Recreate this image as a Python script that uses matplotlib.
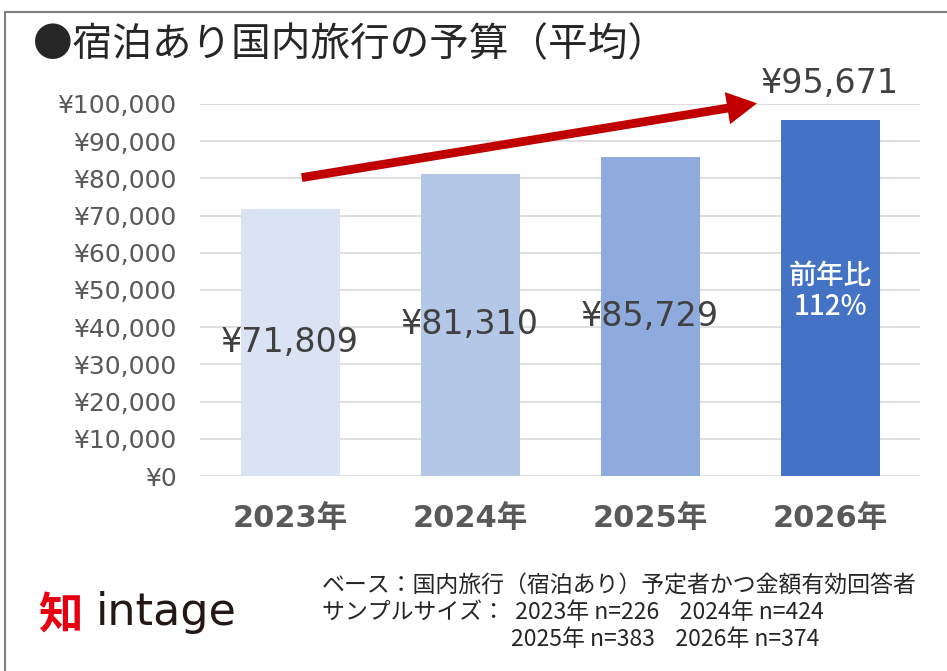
import matplotlib
matplotlib.use("Agg")
import matplotlib.pyplot as plt
from matplotlib.patches import Rectangle
from matplotlib.ticker import FuncFormatter

plt.rcParams['font.family'] = ['DejaVu Sans', 'Noto Sans CJK JP']

categories = ["2023年", "2024年", "2025年", "2026年"]
values = [71809, 81310, 85729, 95671]
colors = ["#DAE3F3", "#B4C7E7", "#8FAADC", "#4472C4"]
yoy_label = "前年比\n112%"
title = "●宿泊あり国内旅行の予算（平均）"
footer = ["ベース：国内旅行（宿泊あり）予定者かつ金額有効回答者",
          "サンプルサイズ：  2023年 n=226    2024年 n=424",
          "2025年 n=383    2026年 n=374"]
footer_x = [322, 322, 511]

W, H = 947, 671
fig = plt.figure(figsize=(W / 100, H / 100), dpi=100)

# outer frame
fig.add_artist(Rectangle((5 / W, -0.05), 1.0, 1 - 12 / H + 0.05, transform=fig.transFigure,
                         fill=False, edgecolor="#808080", linewidth=1.5))

ax = fig.add_axes([200 / W, 195 / H, 720 / W, 372 / H])
x = range(len(categories))
bars = ax.bar(x, values, width=0.55, color=colors, zorder=2)
ax.set_xlim(-0.5, 3.5)
ax.set_ylim(0, 100000)
ax.set_yticks(range(0, 100001, 10000))
ax.yaxis.set_major_formatter(FuncFormatter(lambda v, p: f"¥{int(v):,}"))
ax.grid(axis="y", color="#D9D9D9", linewidth=1.2, zorder=0)
for s in ax.spines.values():
    s.set_visible(False)
ax.tick_params(axis="y", length=0, labelsize=18, labelcolor="#595959", pad=17)
ax.tick_params(axis="x", length=0, labelsize=22, labelcolor="#595959", pad=20)
ax.set_xticks(list(x))
ax.set_xticklabels(categories, fontweight="bold")

for i, v in enumerate(values[:-1]):
    ax.text(i, v / 2, f"¥{v:,}", ha="center", va="center", fontsize=24, color="#404040")
ax.text(3, values[-1] + 5500, f"¥{values[-1]:,}", ha="center", va="bottom", fontsize=24, color="#404040")
ax.text(3, values[-1] * 0.52, yoy_label, ha="center", va="center", fontsize=20, color="white",
        linespacing=1.1, family=['Noto Sans CJK JP'], fontweight="medium")

ax.annotate("", xy=(2.61, 100300), xytext=(0.05, 80100),
            arrowprops=dict(arrowstyle="simple,head_width=1.3,head_length=1.2,tail_width=0.35",
                            mutation_scale=18, color="#C00000", lw=0),
            annotation_clip=False, zorder=5)

fig.text(33 / W, 1 - 45 / H, title, fontsize=28.5, color="#262626", va="center", ha="left",
         family=['Noto Sans CJK JP'])

for k, line in enumerate(footer):
    fig.text(footer_x[k] / W, 1 - (586 + 26.5 * k) / H, line, fontsize=16.5, color="#262626",
             va="center", ha="left", family=['Noto Sans CJK JP'])

# logo
fig.text(38 / W, 1 - 617 / H, "知", fontsize=32, color="#E60012", va="center", ha="left",
         family=['Noto Sans CJK JP'], fontweight="bold")
fig.text(96 / W, 1 - 612 / H, "intage", fontsize=32, color="#231815", va="center", ha="left",
         family=['DejaVu Sans'])

fig.savefig("out.png", dpi=100)
